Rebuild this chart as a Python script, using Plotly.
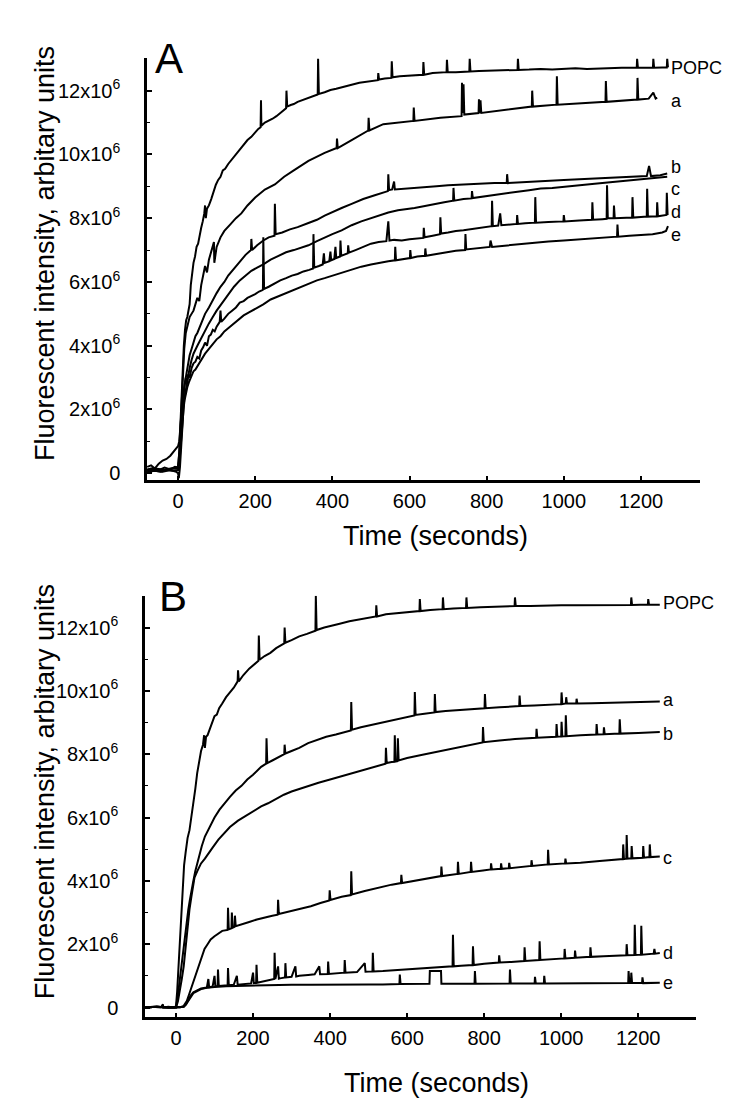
import plotly.graph_objects as go

# ---------------- data (fluorescence in units of 10^6, time in s) ----------------
time_ticks = [0, 200, 400, 600, 800, 1000, 1200]
y_ticks = [0, 2, 4, 6, 8, 10, 12]
y_tick_text = ["0", "2x10<sup>6</sup>", "4x10<sup>6</sup>", "6x10<sup>6</sup>",
               "8x10<sup>6</sup>", "10x10<sup>6</sup>", "12x10<sup>6</sup>"]

popc_A = [(-80,0.12),(-65,0.16),(-50,0.1),(-35,0.18),(-20,0.12),(-8,0.2),(0,0.18),(3,0.6),(6,1.5),(9,2.5),(12,3.4),(15,4.0),(18,4.5),(21,4.8),(24,4.9),(27,5.1),(30,5.3),(33,5.9),(36,6.3),(40,6.6),(44,6.8),(48,7.1),(52,7.2),(56,7.5),(60,7.7),(64,7.9),(68,8.15),(70,8.4),(72,8.0),(75,8.3),(80,8.4),(86,8.6),(92,8.85),(98,9.05),(104,9.2),(110,9.3),(116,9.5),(122,9.55),(130,9.7),(140,9.85),(150,10.0),(158,10.1),(164,10.2),(172,10.3),(180,10.45),(190,10.55),(200,10.7),(208,10.8),(214,10.85),(215,11.7),(216,10.9),(225,11.0),(235,11.05),(245,11.12),(255,11.2),(265,11.3),(275,11.4),(280,11.45),(281,12.0),(283,11.5),(292,11.55),(300,11.58),(310,11.65),(322,11.7),(335,11.75),(348,11.82),(362,11.88),(363,13.0),(365,11.9),(380,11.95),(395,12.02),(410,12.06),(425,12.1),(440,12.15),(455,12.2),(470,12.25),(485,12.28),(500,12.3),(518,12.33),(519,12.55),(521,12.35),(536,12.38),(553,12.4),(554,12.92),(556,12.42),(575,12.45),(600,12.47),(620,12.5),(635,12.5),(636,12.9),(638,12.5),(660,12.55),(680,12.56),(696,12.58),(697,12.97),(699,12.58),(720,12.58),(740,12.6),(755,12.6),(756,13.0),(758,12.6),(780,12.62),(800,12.63),(825,12.62),(850,12.65),(880,12.65),(881,13.0),(883,12.65),(910,12.66),(940,12.68),(970,12.66),(1000,12.68),(1030,12.7),(1060,12.68),(1090,12.7),(1120,12.7),(1150,12.72),(1189,12.72),(1190,13.0),(1192,12.72),(1210,12.73),(1231,12.72),(1232,13.0),(1234,12.72),(1255,12.73),(1267,12.73),(1268,13.0),(1270,12.73)]

a_A = [(-80,0.1),(-55,0.14),(-30,0.1),(-10,0.16),(0,0.2),(4,0.8),(8,1.8),(12,3.0),(16,3.9),(20,4.4),(25,4.7),(30,4.9),(40,5.1),(50,5.5),(55,5.4),(60,5.9),(70,6.5),(75,6.3),(80,6.7),(88,7.0),(93,7.25),(94,6.6),(100,7.1),(110,7.4),(120,7.6),(135,7.8),(150,8.0),(164,8.15),(180,8.4),(200,8.65),(225,8.9),(251,9.06),(275,9.3),(300,9.5),(338,9.8),(380,10.05),(411,10.2),(412,10.5),(414,10.2),(450,10.45),(493,10.75),(494,11.15),(496,10.75),(532,10.95),(570,11.0),(610,11.05),(611,11.47),(613,11.05),(680,11.15),(735,11.2),(736,12.25),(738,11.3),(740,12.2),(742,11.25),(779,11.3),(780,11.73),(782,11.3),(784,11.7),(786,11.3),(850,11.4),(917,11.5),(918,12.0),(920,11.5),(981,11.56),(982,12.45),(984,11.56),(1050,11.62),(1108,11.65),(1109,12.3),(1111,11.65),(1190,11.72),(1191,12.4),(1193,11.72),(1220,11.75),(1232,11.94),(1238,11.75),(1242,11.78)]

b_A = [(-80,0.1),(-60,0.12),(-40,0.08),(-20,0.15),(0,0.15),(4,0.5),(8,1.2),(12,2.0),(16,2.7),(20,3.0),(25,3.4),(30,3.7),(35,3.9),(40,4.1),(45,4.3),(50,4.4),(60,4.7),(70,5.0),(80,5.2),(90,5.45),(100,5.65),(110,5.85),(120,6.0),(130,6.2),(140,6.35),(150,6.5),(164,6.7),(175,6.85),(189,7.0),(190,7.35),(192,7.0),(205,7.15),(221,7.3),(235,7.4),(250,7.45),(251,8.45),(253,7.5),(270,7.55),(290,7.65),(310,7.72),(338,7.85),(360,7.95),(380,8.08),(400,8.2),(424,8.32),(450,8.45),(480,8.6),(510,8.72),(535,8.8),(544,8.85),(545,9.38),(547,8.88),(555,8.9),(560,9.15),(562,8.9),(590,8.92),(613,8.95),(640,8.97),(670,9.0),(700,9.03),(730,9.05),(760,9.06),(790,9.08),(820,9.1),(852,9.1),(853,9.38),(855,9.1),(880,9.12),(920,9.15),(960,9.18),(1000,9.2),(1040,9.22),(1080,9.24),(1120,9.26),(1160,9.28),(1200,9.3),(1215,9.32),(1221,9.64),(1226,9.32),(1250,9.35),(1268,9.4)]

c_A = [(-80,0.05),(-60,0.08),(-45,0.05),(-30,0.1),(-15,0.08),(0,0.1),(4,0.4),(8,1.0),(12,1.7),(16,2.3),(20,2.6),(25,3.0),(30,3.3),(35,3.55),(40,3.75),(50,4.0),(60,4.25),(70,4.5),(80,4.7),(90,4.9),(100,5.1),(115,5.35),(130,5.6),(145,5.85),(160,6.05),(175,6.2),(190,6.35),(205,6.45),(221,6.55),(240,6.7),(260,6.82),(280,6.93),(300,7.0),(320,7.08),(338,7.15),(360,7.28),(380,7.4),(400,7.5),(424,7.62),(450,7.78),(475,7.9),(500,8.0),(520,8.1),(545,8.18),(570,8.25),(590,8.28),(613,8.32),(640,8.38),(665,8.43),(690,8.5),(713,8.55),(714,8.95),(716,8.55),(740,8.6),(761,8.62),(762,8.85),(764,8.63),(790,8.68),(820,8.72),(850,8.78),(880,8.83),(910,8.88),(940,8.93),(970,8.95),(1000,8.98),(1040,9.03),(1080,9.08),(1120,9.13),(1160,9.18),(1200,9.22),(1240,9.27),(1268,9.3)]

d_A = [(-80,0.2),(-70,0.25),(-60,0.15),(-50,0.3),(-40,0.4),(-30,0.45),(-20,0.55),(-10,0.7),(-4,0.8),(0,0.85),(3,1.0),(6,1.5),(9,2.0),(12,2.3),(15,2.6),(18,2.8),(20,3.0),(23,2.8),(26,3.1),(30,3.0),(35,3.3),(40,3.45),(45,3.5),(50,3.65),(55,3.6),(60,3.85),(65,3.95),(70,4.1),(75,4.0),(80,4.3),(85,4.35),(90,4.5),(95,4.45),(100,4.6),(108,4.75),(110,5.1),(112,4.75),(120,4.85),(130,5.0),(140,5.1),(150,5.2),(160,5.35),(170,5.4),(180,5.5),(190,5.55),(200,5.62),(210,5.7),(220,5.75),(221,7.4),(223,5.78),(235,5.85),(250,5.95),(265,6.05),(280,6.12),(295,6.2),(310,6.25),(325,6.33),(340,6.38),(350,6.42),(351,7.5),(353,6.45),(365,6.5),(375,6.55),(378,6.9),(380,6.6),(392,6.65),(395,6.95),(397,6.68),(405,6.72),(408,7.1),(410,6.75),(420,6.8),(421,7.3),(423,6.82),(440,6.9),(441,7.15),(443,6.92),(460,7.0),(480,7.1),(500,7.2),(520,7.25),(540,7.28),(545,7.9),(548,7.3),(560,7.32),(580,7.3),(600,7.34),(620,7.37),(636,7.38),(637,7.7),(639,7.4),(660,7.45),(679,7.5),(680,8.03),(682,7.52),(700,7.55),(720,7.6),(740,7.62),(760,7.66),(780,7.7),(800,7.72),(813,7.75),(814,8.55),(816,7.75),(830,7.77),(835,8.15),(838,7.78),(860,7.8),(878,7.82),(879,8.1),(881,7.82),(900,7.84),(925,7.86),(926,8.66),(928,7.86),(960,7.88),(999,7.9),(1000,8.1),(1002,7.9),(1040,7.93),(1073,7.95),(1074,8.5),(1076,7.95),(1100,7.97),(1111,7.98),(1112,9.03),(1114,8.0),(1129,8.0),(1130,8.4),(1132,8.0),(1160,8.02),(1177,8.02),(1178,8.66),(1180,8.02),(1200,8.04),(1215,8.05),(1216,8.92),(1218,8.05),(1241,8.06),(1242,8.5),(1244,8.06),(1258,8.08),(1266,8.1),(1267,8.8),(1269,8.1)]

e_A = [(-80,0.05),(-60,0.08),(-40,0.05),(-20,0.1),(-5,0.05),(0,0.0),(2,-0.15),(5,0.2),(8,0.8),(11,1.5),(14,2.0),(17,2.3),(20,2.5),(24,2.7),(28,2.85),(32,2.95),(36,3.1),(40,3.2),(45,3.25),(50,3.35),(55,3.45),(60,3.55),(70,3.75),(80,3.9),(90,4.05),(100,4.2),(110,4.3),(120,4.45),(130,4.55),(140,4.65),(155,4.8),(170,4.95),(185,5.05),(200,5.15),(221,5.3),(240,5.45),(260,5.55),(280,5.65),(300,5.75),(320,5.85),(338,5.95),(360,6.05),(380,6.12),(400,6.2),(424,6.3),(450,6.4),(475,6.48),(500,6.55),(520,6.6),(545,6.65),(562,6.68),(563,7.1),(565,6.68),(580,6.7),(601,6.75),(602,7.0),(604,6.75),(620,6.8),(640,6.82),(641,7.05),(643,6.82),(670,6.88),(700,6.95),(720,6.98),(744,7.0),(745,7.5),(747,7.02),(770,7.05),(790,7.08),(808,7.1),(810,7.3),(814,7.1),(840,7.13),(870,7.17),(900,7.2),(930,7.24),(960,7.27),(1000,7.3),(1040,7.34),(1080,7.38),(1120,7.4),(1138,7.42),(1139,7.8),(1141,7.42),(1170,7.45),(1200,7.48),(1230,7.5),(1255,7.55),(1265,7.6),(1270,7.75)]

popc_B = [(-80,0.0),(-60,0.02),(-40,0.0),(-34,0.1),(-33,0.0),(-20,0.02),(-5,0.0),(0,0.05),(3,0.5),(6,1.2),(9,2.0),(12,2.8),(15,3.5),(18,4.1),(21,4.5),(25,4.9),(30,5.35),(35,5.6),(40,6.0),(45,6.4),(50,6.9),(55,7.4),(60,7.8),(65,8.1),(70,8.3),(73,8.6),(75,8.2),(78,8.55),(82,8.6),(90,8.9),(96,9.05),(100,9.2),(106,9.25),(112,9.45),(120,9.6),(130,9.8),(140,9.95),(150,10.1),(160,10.3),(161,10.65),(163,10.3),(175,10.5),(190,10.7),(205,10.85),(214,10.95),(215,11.75),(217,10.98),(230,11.1),(245,11.2),(260,11.35),(275,11.45),(281,11.5),(282,12.0),(284,11.52),(300,11.6),(320,11.72),(340,11.8),(362,11.9),(363,13.0),(365,11.92),(385,12.0),(405,12.07),(425,12.12),(450,12.2),(475,12.26),(500,12.3),(519,12.35),(520,12.7),(522,12.35),(545,12.42),(570,12.45),(600,12.5),(632,12.52),(633,12.9),(635,12.52),(660,12.55),(692,12.58),(693,12.95),(695,12.58),(720,12.6),(753,12.62),(754,12.95),(756,12.62),(790,12.64),(820,12.65),(850,12.66),(879,12.68),(880,12.95),(882,12.68),(920,12.68),(960,12.7),(1000,12.7),(1040,12.7),(1080,12.7),(1120,12.71),(1160,12.71),(1181,12.71),(1182,12.95),(1184,12.71),(1205,12.72),(1225,12.72),(1226,12.9),(1228,12.72),(1245,12.72),(1256,12.72)]

a_B = [(-80,0.0),(-50,0.02),(-20,0.0),(0,0.0),(4,0.3),(8,0.7),(12,1.2),(16,1.6),(20,1.9),(24,2.3),(28,2.7),(32,3.1),(36,3.4),(40,3.7),(45,4.0),(50,4.3),(55,4.55),(60,4.8),(67,5.1),(75,5.4),(83,5.6),(90,5.8),(100,6.0),(113,6.25),(126,6.45),(140,6.65),(155,6.85),(170,7.0),(185,7.2),(200,7.35),(221,7.6),(234,7.7),(235,8.5),(237,7.72),(250,7.8),(265,7.9),(281,8.0),(282,8.3),(284,8.02),(300,8.1),(320,8.2),(343,8.35),(365,8.45),(390,8.55),(415,8.62),(440,8.7),(454,8.75),(455,9.65),(457,8.77),(480,8.85),(510,8.93),(537,9.0),(560,9.08),(590,9.15),(619,9.22),(620,9.96),(622,9.24),(645,9.28),(671,9.32),(672,9.9),(674,9.33),(700,9.36),(740,9.4),(770,9.43),(801,9.45),(802,9.9),(804,9.45),(840,9.48),(870,9.5),(891,9.52),(892,9.85),(894,9.52),(930,9.54),(960,9.56),(1000,9.58),(1001,9.95),(1003,9.58),(1012,9.6),(1013,9.8),(1015,9.6),(1039,9.6),(1040,9.75),(1042,9.6),(1080,9.61),(1120,9.62),(1160,9.63),(1200,9.64),(1230,9.65),(1256,9.66)]

b_B = [(-80,0.0),(-50,0.02),(-20,0.0),(0,0.0),(5,0.2),(10,0.5),(15,0.9),(20,1.3),(25,1.9),(30,2.6),(35,3.1),(40,3.5),(44,3.85),(48,4.1),(55,4.3),(65,4.55),(75,4.7),(83,4.85),(95,5.05),(110,5.3),(125,5.5),(140,5.7),(161,5.9),(180,6.05),(200,6.2),(221,6.35),(239,6.45),(260,6.6),(280,6.72),(300,6.82),(320,6.9),(343,7.0),(370,7.1),(400,7.2),(430,7.3),(460,7.42),(490,7.52),(515,7.6),(537,7.68),(544,7.7),(545,8.2),(547,7.72),(560,7.75),(567,7.76),(568,8.6),(570,7.77),(575,7.78),(576,8.5),(578,7.8),(600,7.88),(640,7.98),(680,8.08),(720,8.18),(760,8.28),(796,8.37),(797,8.86),(799,8.38),(840,8.43),(880,8.48),(935,8.52),(936,8.8),(938,8.52),(987,8.55),(988,8.95),(990,8.55),(1000,8.56),(1001,9.02),(1003,8.56),(1011,8.57),(1012,9.23),(1014,8.57),(1050,8.6),(1091,8.62),(1092,8.95),(1094,8.62),(1110,8.63),(1111,8.85),(1113,8.63),(1151,8.65),(1152,9.1),(1154,8.65),(1200,8.67),(1230,8.68),(1256,8.7)]

c_B = [(-80,0.0),(-50,0.02),(-20,0.0),(0,0.0),(10,0.0),(20,0.05),(28,0.2),(35,0.45),(42,0.7),(50,1.0),(58,1.3),(66,1.6),(74,1.85),(82,2.0),(90,2.15),(100,2.25),(110,2.35),(120,2.42),(134,2.45),(135,3.15),(137,2.47),(144,2.5),(145,3.0),(147,2.52),(152,2.55),(153,2.9),(155,2.57),(170,2.62),(190,2.7),(210,2.78),(230,2.85),(250,2.9),(264,2.93),(265,3.4),(267,2.95),(290,3.02),(320,3.1),(350,3.2),(375,3.3),(398,3.38),(399,3.7),(401,3.4),(430,3.5),(454,3.55),(455,4.3),(457,3.57),(490,3.68),(537,3.82),(560,3.88),(584,3.93),(585,4.19),(587,3.93),(620,4.0),(650,4.07),(688,4.15),(689,4.45),(691,4.15),(731,4.22),(732,4.6),(734,4.22),(765,4.28),(766,4.6),(768,4.28),(797,4.33),(817,4.36),(818,4.55),(820,4.36),(843,4.38),(844,4.55),(846,4.38),(864,4.4),(865,4.57),(867,4.4),(922,4.47),(923,4.65),(925,4.47),(965,4.52),(966,4.98),(968,4.52),(1010,4.55),(1011,4.7),(1013,4.55),(1050,4.57),(1100,4.63),(1140,4.67),(1160,4.69),(1161,5.15),(1163,4.69),(1169,4.7),(1170,5.45),(1172,4.7),(1182,4.71),(1183,5.1),(1185,4.71),(1212,4.73),(1213,5.1),(1215,4.73),(1229,4.75),(1230,5.15),(1232,4.75),(1256,4.77)]

d_B = [(-80,0.0),(-50,0.02),(-20,0.0),(0,0.0),(10,0.0),(20,0.02),(26,0.1),(32,0.25),(38,0.38),(45,0.48),(55,0.55),(65,0.6),(80,0.63),(84,0.9),(86,0.64),(95,0.66),(100,1.0),(102,0.67),(108,0.68),(109,1.2),(111,0.68),(125,0.7),(134,0.7),(135,1.25),(137,0.7),(150,0.72),(158,1.0),(160,0.72),(180,0.74),(195,0.76),(200,1.1),(202,0.77),(208,0.78),(209,1.35),(211,0.78),(225,0.82),(240,0.86),(255,0.9),(256,1.73),(258,0.9),(265,1.3),(267,0.91),(270,0.92),(283,0.95),(284,1.4),(286,0.95),(300,0.97),(310,1.3),(312,0.98),(320,1.0),(343,1.03),(360,1.05),(372,1.3),(374,1.05),(394,1.06),(395,1.45),(397,1.06),(420,1.08),(437,1.1),(438,1.5),(440,1.1),(470,1.12),(490,1.4),(492,1.13),(510,1.14),(511,1.73),(513,1.14),(537,1.15),(570,1.18),(600,1.2),(640,1.24),(680,1.28),(718,1.3),(719,2.3),(721,1.3),(740,1.32),(770,1.34),(771,1.93),(773,1.34),(800,1.38),(838,1.42),(839,1.65),(841,1.42),(870,1.44),(904,1.47),(905,1.9),(907,1.47),(943,1.5),(944,2.09),(946,1.5),(980,1.53),(1008,1.55),(1009,1.85),(1011,1.55),(1035,1.57),(1036,1.8),(1038,1.57),(1075,1.6),(1076,1.9),(1078,1.6),(1110,1.62),(1145,1.64),(1169,1.65),(1170,2.0),(1172,1.65),(1190,1.66),(1191,2.61),(1193,1.66),(1207,1.67),(1208,2.58),(1210,1.67),(1240,1.7),(1242,1.85),(1244,1.7),(1256,1.72)]

e_B = [(-80,0.0),(-50,0.02),(-20,0.0),(0,0.0),(10,0.0),(20,0.02),(26,0.1),(32,0.22),(38,0.35),(45,0.45),(55,0.52),(65,0.58),(80,0.62),(100,0.65),(130,0.67),(160,0.68),(200,0.7),(250,0.71),(300,0.72),(350,0.72),(400,0.73),(450,0.73),(500,0.73),(537,0.73),(580,0.74),(581,1.04),(583,0.74),(658,0.75),(659,1.15),(688,1.15),(689,0.75),(700,0.75),(775,0.75),(776,1.15),(778,0.75),(866,0.76),(867,1.2),(869,0.76),(931,0.76),(932,0.97),(934,0.76),(955,0.76),(956,1.0),(958,0.76),(1050,0.77),(1100,0.77),(1174,0.77),(1175,1.15),(1177,0.77),(1181,0.77),(1182,1.1),(1184,0.77),(1210,0.77),(1211,0.95),(1213,0.77),(1256,0.78)]

curve_names = ["POPC", "a", "b", "c", "d", "e"]
panel_A_curves = [popc_A, a_A, b_A, c_A, d_A, e_A]
panel_B_curves = [popc_B, a_B, b_B, c_B, d_B, e_B]

# ---------------- figure ----------------
FONT = "Liberation Sans, Arial, Helvetica, sans-serif"
W, H = 750, 1101

fig = go.Figure()
for pts in panel_A_curves:
    fig.add_trace(go.Scatter(x=[p[0] for p in pts], y=[p[1] for p in pts], mode="lines",
                             line=dict(color="black", width=2), xaxis="x", yaxis="y",
                             hoverinfo="skip"))
for pts in panel_B_curves:
    fig.add_trace(go.Scatter(x=[p[0] for p in pts], y=[p[1] for p in pts], mode="lines",
                             line=dict(color="black", width=2), xaxis="x2", yaxis="y2",
                             hoverinfo="skip"))

def px_x(v):
    return v / W

def px_y(v):
    return 1 - v / H

xcommon = dict(showline=True, linecolor="black", linewidth=2.5, ticks="inside", ticklen=5,
               tickwidth=2, tickcolor="black", showgrid=False, zeroline=False,
               tickvals=time_ticks, tickfont=dict(family=FONT, size=20, color="black"),
               ticklabelstandoff=1, fixedrange=True)
ycommon = dict(showline=True, linecolor="black", linewidth=2.5, ticks="inside", ticklen=5,
               tickwidth=2, tickcolor="black", showgrid=False, zeroline=False,
               tickvals=y_ticks, ticktext=y_tick_text,
               tickfont=dict(family=FONT, size=20, color="black"),
               ticklabelstandoff=20, fixedrange=True,
               minor=dict(ticks="inside", ticklen=3, tickwidth=1, tickcolor="black", dtick=1,
                          showgrid=False))

fig.update_layout(
    width=W, height=H, margin=dict(l=0, r=0, t=0, b=0),
    paper_bgcolor="white", plot_bgcolor="white", showlegend=False,
    xaxis=dict(xcommon, domain=[px_x(139), px_x(692)], range=[-80.5, 1353], anchor="y"),
    yaxis=dict(ycommon, domain=[px_y(474), px_y(50)], range=[-0.22, 13.03], anchor="x"),
    xaxis2=dict(xcommon, domain=[px_x(137), px_x(688)], range=[-80.5, 1350], anchor="y2"),
    yaxis2=dict(ycommon, domain=[px_y(1013), px_y(590)], range=[-0.31, 13.0], anchor="x2"),
)

ann = []
def label(text, x, y, size, xanchor="center", angle=0):
    ann.append(dict(text=text, x=px_x(x), y=px_y(y), xref="paper", yref="paper",
                    xanchor=xanchor, yanchor="middle", showarrow=False, textangle=angle,
                    borderpad=0,
                    font=dict(family=FONT, size=size, color="black")))

# panel letters
label("A", 161, 51, 42)
label("B", 165, 591, 42)
# axis titles
label("Time (seconds)", 427, 530, 27)
label("Time (seconds)", 428, 1079, 27)
label("Fluorescent intensity, arbitary units", 37, 247, 27, angle=-90)
label("Fluorescent intensity, arbitary units", 37, 787, 27, angle=-90)
# curve labels
for name, yy in zip(curve_names, [60, 93, 160, 182, 205, 228]):
    label(name, 662, yy, 18, xanchor="left")
for name, yy in zip(curve_names, [597, 695, 729, 853, 948, 979]):
    label(name, 654, yy, 18, xanchor="left")

fig.update_layout(annotations=ann)
fig.write_html("out.html")
